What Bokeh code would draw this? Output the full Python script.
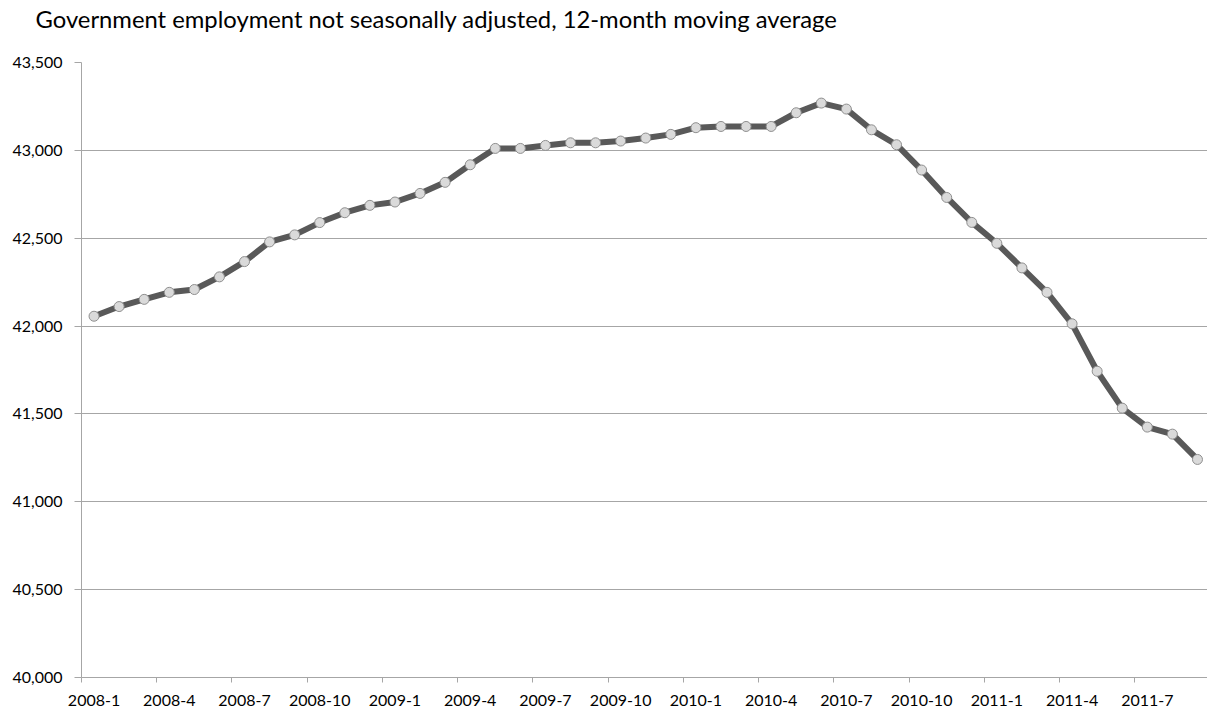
from bokeh.plotting import figure
from bokeh.models import Range1d, FixedTicker, NumeralTickFormatter
from bokeh.embed import file_html
from bokeh.resources import INLINE

# ---- data ----
years = [2008, 2009, 2010, 2011]
months = [f"{y}-{m}" for y in years for m in range(1, 13)][:45]
values = [42056, 42111, 42152, 42192, 42208, 42280, 42367, 42479, 42519, 42589,
          42645, 42687, 42706, 42755, 42818, 42918, 43011, 43011, 43028, 43043,
          43043, 43053, 43070, 43091, 43129, 43136, 43136, 43136, 43214, 43269,
          43235, 43117, 43032, 42888, 42732, 42590, 42471, 42331, 42192, 42013,
          41743, 41533, 41425, 41385, 41241]
y_ticks = [40000, 40500, 41000, 41500, 42000, 42500, 43000, 43500]
title_text = "Government employment not seasonally adjusted, 12-month moving average"

xs = list(range(len(values)))
label_idx = list(range(0, len(months), 3))

GRID = "#a6a6a6"
FONT = "Lato"

p = figure(width=1207, height=719, output_backend="svg", toolbar_location=None,
           x_range=Range1d(-0.5, 44.4), y_range=Range1d(40000, 43500),
           min_border_left=81, min_border_right=0, min_border_top=62, min_border_bottom=42)
p.outline_line_color = None
p.background_fill_color = "white"
p.border_fill_color = "white"

# title (a blank second line lifts it towards the top edge)
p.title.text = title_text + "\n "
p.title.text_font = FONT
p.title.text_font_size = "23.8px"
p.title.text_font_style = "normal"
p.title.text_color = "#000000"
p.title.offset = -46
p.title.standoff = 4

# y axis
p.yaxis.ticker = FixedTicker(ticks=y_ticks)
p.yaxis.formatter = NumeralTickFormatter(format="0,0")
p.yaxis.major_label_text_font = FONT
p.yaxis.major_label_text_font_size = "16px"
p.yaxis.major_label_text_color = "#000000"
p.yaxis.axis_line_color = GRID
p.yaxis.major_tick_line_color = GRID
p.yaxis.major_tick_out = 7
p.yaxis.major_tick_in = 0
p.yaxis.minor_tick_line_color = None
p.yaxis.major_label_standoff = 12

# x axis: ticks at category boundaries, labels at category centres
p.xaxis.ticker = FixedTicker(ticks=label_idx, minor_ticks=[i - 0.5 for i in label_idx])
p.xaxis.major_label_overrides = {i: months[i] for i in label_idx}
p.xaxis.major_label_text_font = FONT
p.xaxis.major_label_text_font_size = "16px"
p.xaxis.major_label_text_color = "#000000"
p.xaxis.axis_line_color = GRID
p.xaxis.major_tick_line_color = None
p.xaxis.major_tick_out = 5
p.xaxis.major_tick_in = 0
p.xaxis.minor_tick_line_color = GRID
p.xaxis.minor_tick_out = 5
p.xaxis.minor_tick_in = 0
p.xaxis.major_label_standoff = 12

p.xgrid.grid_line_color = None
p.ygrid.ticker = FixedTicker(ticks=y_ticks)
p.ygrid.grid_line_color = GRID
p.ygrid.grid_line_width = 1

# series
p.line(xs, values, line_color="#595959", line_width=6, line_join="round")
p.scatter(xs, values, marker="circle", size=10, fill_color="#dadada",
          line_color="#8f8f8f", line_width=1)

open("out.html", "w").write(file_html(p, INLINE))
